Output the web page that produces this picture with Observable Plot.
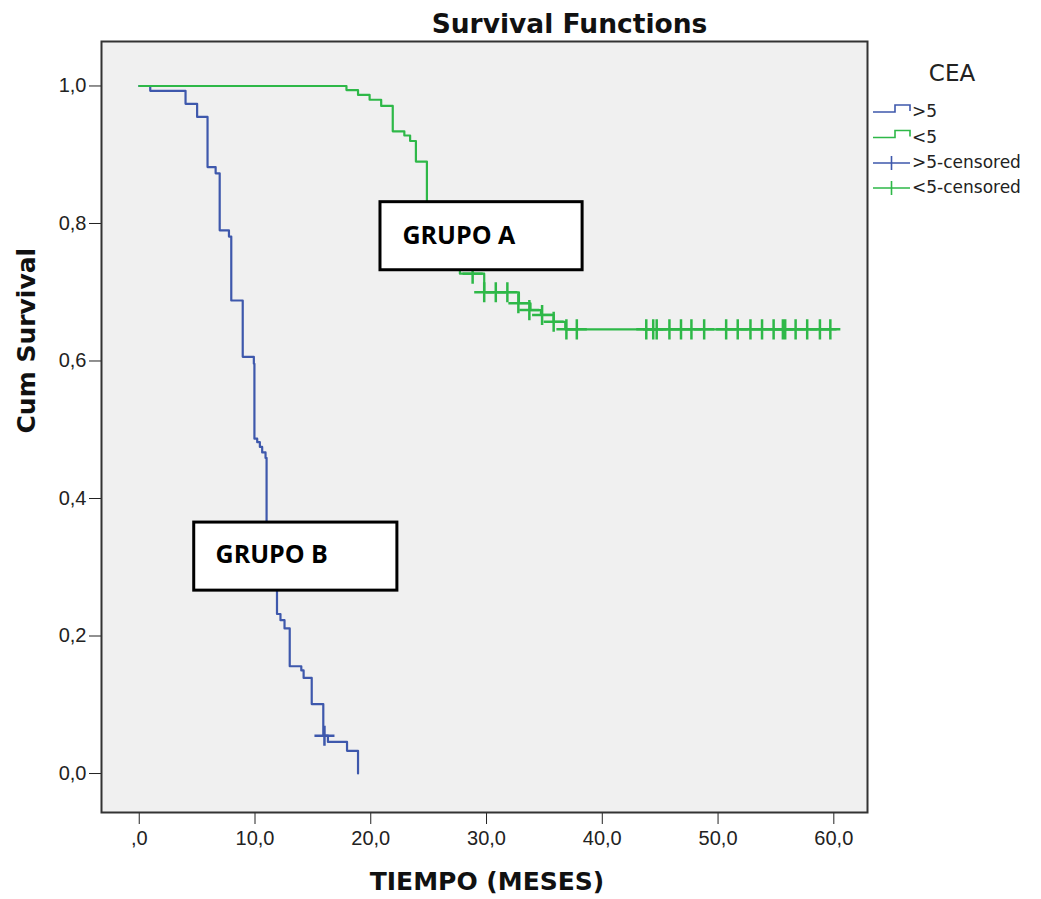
<!DOCTYPE html>
<html><head><meta charset="utf-8">
<script src="https://cdn.jsdelivr.net/npm/d3@7"></script>
<script src="https://cdn.jsdelivr.net/npm/@observablehq/plot@0.6"></script>
<style>body{margin:0;background:#fff}#chart{width:1041px;height:899px}</style>
</head><body><div id="chart"></div>
<script>
// ---- data ----
const blueTime = [0, 0.95, 4.0, 5.0, 5.9, 6.6, 6.95, 7.75, 7.95, 8.94, 9.9, 9.95, 10.19, 10.42, 10.62, 10.91, 11.0, 11.9, 12.2, 12.55, 13.0, 14.0, 14.2, 14.9, 15.9, 16.3, 17.95, 18.9];
const blueSurv = [1.0, 0.993, 0.974, 0.955, 0.882, 0.873, 0.790, 0.781, 0.688, 0.606, 0.596, 0.487, 0.482, 0.475, 0.467, 0.459, 0.300, 0.232, 0.223, 0.211, 0.156, 0.150, 0.139, 0.101, 0.055, 0.046, 0.033, 0.0];
const blueCensTime = [16.0];
const blueCensSurv = [0.055];

const greenTime = [0, 17.9, 18.9, 19.9, 20.9, 21.9, 22.9, 23.4, 23.9, 24.85, 26.2, 27.7, 29.8, 32.8, 33.8, 34.7, 35.8, 36.8, 60.2];
const greenSurv = [1.0, 0.994, 0.987, 0.980, 0.971, 0.934, 0.928, 0.920, 0.890, 0.790, 0.755, 0.727, 0.700, 0.684, 0.674, 0.667, 0.657, 0.646, 0.646];
const greenCensTime = [28.8, 29.8, 30.8, 31.8, 32.75, 33.7, 34.8, 35.8, 36.9, 37.8, 43.8, 44.4, 44.7, 45.8, 46.8, 47.7, 48.8, 50.7, 51.7, 52.8, 53.8, 54.8, 55.6, 55.8, 56.7, 57.7, 58.8, 59.7];
const greenCensSurv = [0.727, 0.700, 0.700, 0.700, 0.684, 0.674, 0.667, 0.657, 0.646, 0.646, 0.646, 0.646, 0.646, 0.646, 0.646, 0.646, 0.646, 0.646, 0.646, 0.646, 0.646, 0.646, 0.646, 0.646, 0.646, 0.646, 0.646, 0.646];

const xTicks = [0, 10, 20, 30, 40, 50, 60];
const yTicks = [0, 0.2, 0.4, 0.6, 0.8, 1.0];

const boxLabels = ["GRUPO A", "GRUPO B"];
const boxX1 = [20.84, 4.75];
const boxX2 = [38.3, 22.3];
const boxY1 = [0.732, 0.266];
const boxY2 = [0.831, 0.365];
const boxTextX = [22.74, 6.59];
const boxTextY = [0.770, 0.306];

const legendLabels = [">5", "<5", ">5-censored", "<5-censored"];
const legendColors = ["#3E58AC", "#2EB848", "#3E58AC", "#2EB848"];
const legendKinds = ["step", "step", "cross", "cross"];

const titleText = "Survival Functions";
const xTitle = "TIEMPO (MESES)";
const yTitle = "Cum Survival";
const legendTitle = "CEA";

// ---- build tables ----
const blue = blueTime.map((t, i) => ({t, s: blueSurv[i]}));
const green = greenTime.map((t, i) => ({t, s: greenSurv[i]}));
const blueC = blueCensTime.map((t, i) => ({t, s: blueCensSurv[i]}));
const greenC = greenCensTime.map((t, i) => ({t, s: greenCensSurv[i]}));
const boxes = boxLabels.map((label, i) => ({label, x1: boxX1[i], x2: boxX2[i], y1: boxY1[i], y2: boxY2[i], tx: boxTextX[i], ty: boxTextY[i]}));

const comma = v => v.toFixed(1).replace(".", ",");

const plot = Plot.plot({
  width: 1041,
  height: 899,
  marginLeft: 101,
  marginRight: 174,
  marginTop: 41,
  marginBottom: 87,
  style: {fontFamily: "Liberation Sans, Arial, sans-serif", fontSize: "20px", color: "#222", background: "#fff"},
  x: {domain: [-3.26, 62.91], ticks: xTicks, tickFormat: d => d === 0 ? ",0" : comma(d), tickSize: 12, tickPadding: 6, label: null},
  y: {domain: [-0.0567, 1.0647], ticks: yTicks, tickFormat: comma, tickSize: 12, tickPadding: 3, label: null},
  marks: [
    Plot.frame({fill: "#f0f0f0"}),
    Plot.line(blue, {x: "t", y: "s", curve: "step-after", stroke: "#3E58AC", strokeWidth: 2.2}),
    Plot.dot(blueC, {x: "t", y: "s", symbol: "plus", r: 6.5, stroke: "#3E58AC", strokeWidth: 2.5}),
    Plot.line(green, {x: "t", y: "s", curve: "step-after", stroke: "#2EB848", strokeWidth: 2.2}),
    Plot.dot(greenC, {x: "t", y: "s", symbol: "plus", r: 6.5, stroke: "#2EB848", strokeWidth: 2.5}),
    Plot.rect(boxes, {x1: "x1", x2: "x2", y1: "y1", y2: "y2", fill: "white", stroke: "#000", strokeWidth: 3}),
    Plot.text(boxes, {x: "tx", y: "ty", text: "label", textAnchor: "start", lineAnchor: "bottom", fontFamily: "Open Sans, sans-serif", fontWeight: "bold", fontSize: 25, fill: "#000"}),
    Plot.frame({stroke: "#333", strokeWidth: 2}),
    Plot.text([titleText], {text: d => d, frameAnchor: "top", dx: 85, dy: -9, lineAnchor: "bottom", fontFamily: "DejaVu Sans, sans-serif", fontWeight: "bold", fontSize: 26.5, fill: "#111"}),
    Plot.text([xTitle], {text: d => d, frameAnchor: "bottom", dx: 2.5, dy: 77, lineAnchor: "bottom", fontFamily: "DejaVu Sans, sans-serif", fontWeight: "bold", fontSize: 25, fill: "#111"}),
    Plot.text([yTitle], {text: d => d, frameAnchor: "left", rotate: -90, dx: -66.5, dy: 6.5, lineAnchor: "bottom", fontFamily: "DejaVu Sans, sans-serif", fontWeight: "bold", fontSize: 25, fill: "#111"})
  ]
});

// ---- legend ----
const svg = d3.select(plot);
const lg = svg.append("g").attr("font-family", "DejaVu Sans, sans-serif");
lg.append("text").attr("x", 952).attr("y", 81).attr("text-anchor", "middle").attr("font-size", 23).attr("fill", "#222").text(legendTitle);
const rowY = [110, 135.5, 161, 186];
legendLabels.forEach((lab, i) => {
  const c = rowY[i];
  const g = lg.append("g");
  if (legendKinds[i] === "step") {
    g.append("path").attr("d", `M873,${c + 2}H895V${c - 5}H910V${c + 1}`).attr("fill", "none").attr("stroke", legendColors[i]).attr("stroke-width", 1.6);
  } else {
    g.append("path").attr("d", `M873,${c + 2}H910M891.5,${c - 5}V${c + 9}`).attr("fill", "none").attr("stroke", legendColors[i]).attr("stroke-width", 1.6);
  }
  g.append("text").attr("x", 912).attr("y", c + 7).attr("text-anchor", "start").attr("font-size", 17).attr("fill", "#222").text(lab);
});

document.getElementById("chart").appendChild(plot);
</script>
</body></html>
